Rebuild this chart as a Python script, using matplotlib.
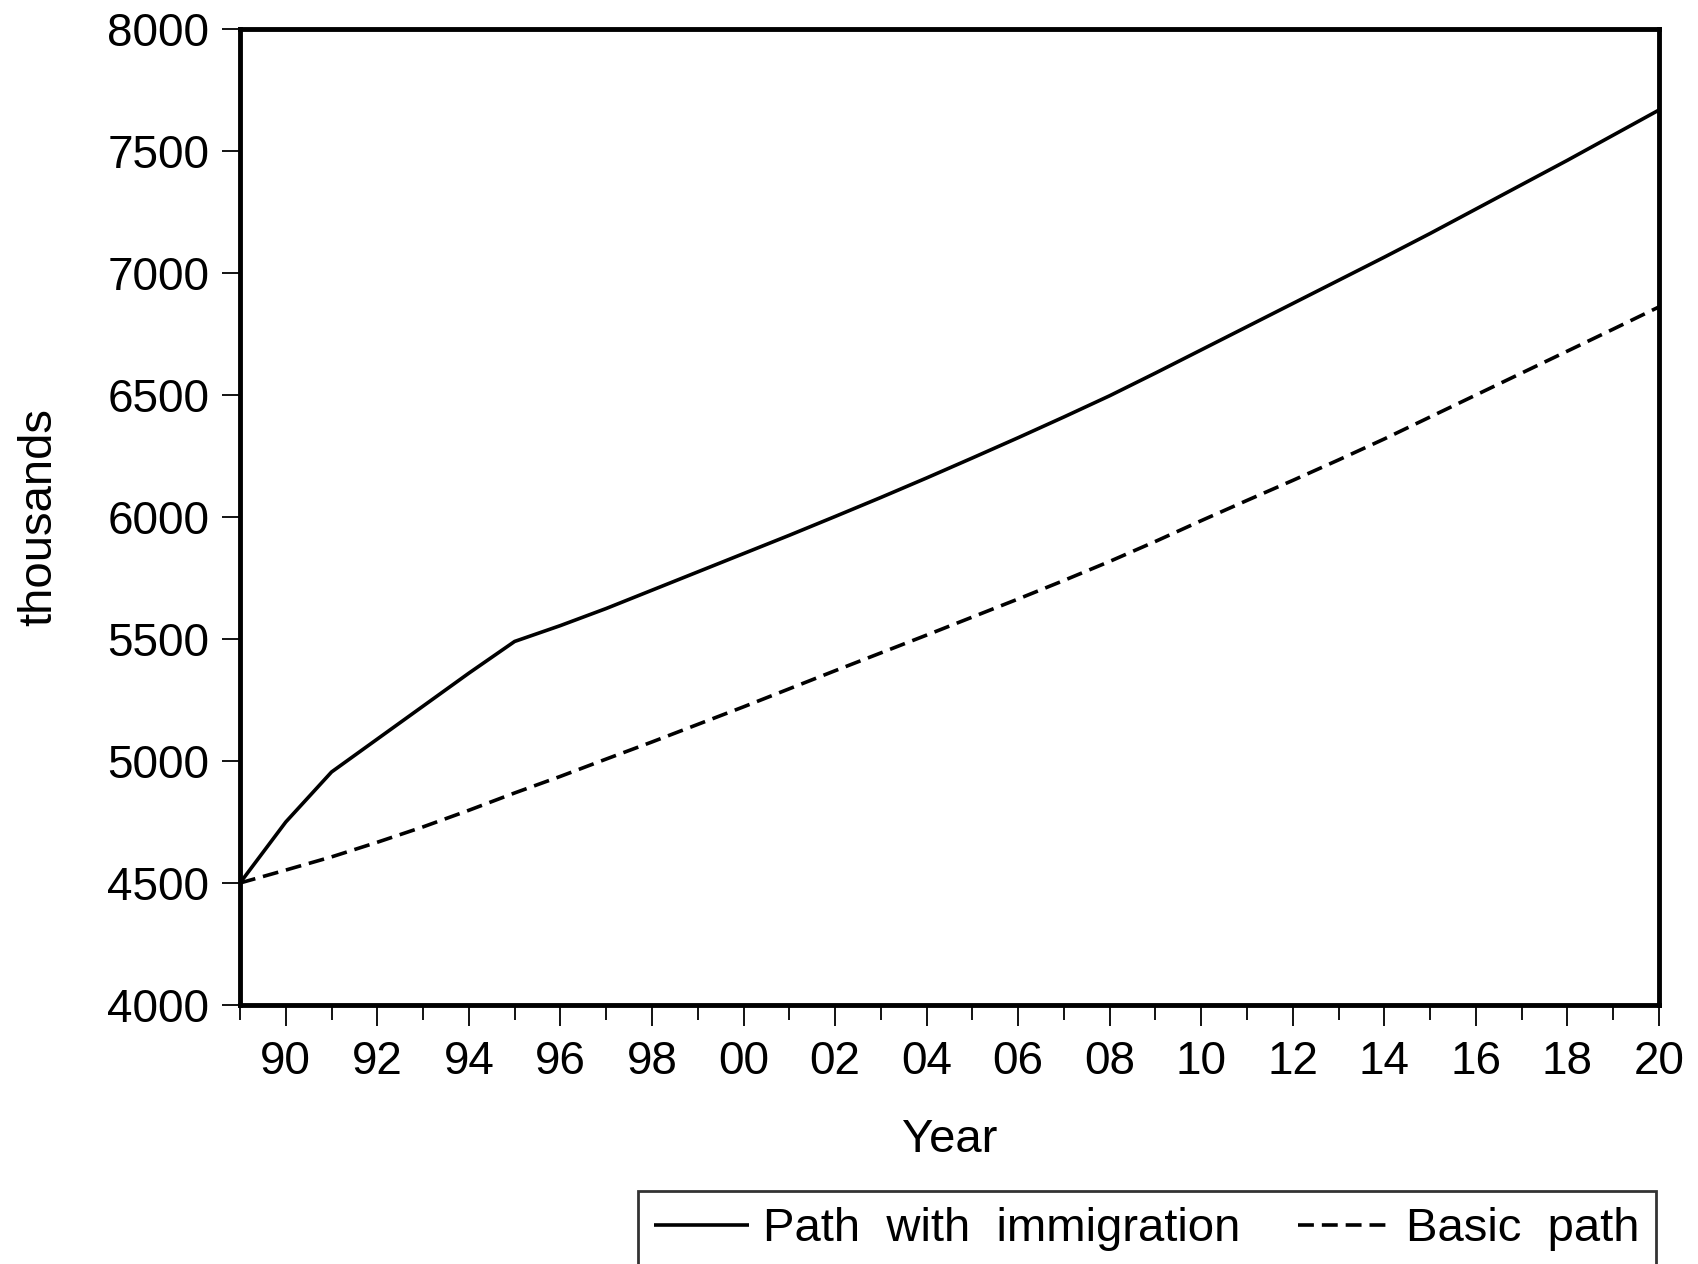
import matplotlib
matplotlib.use("Agg")
import matplotlib.pyplot as plt
from matplotlib.ticker import FixedLocator, FuncFormatter

plt.rcParams['font.family'] = ['Liberation Sans', 'DejaVu Sans']

years = list(range(1989, 2021))
with_immigration = [4500, 4750, 4955, 5090, 5225, 5360, 5490, 5555, 5625, 5700,
                    5775, 5850, 5925, 6002, 6080, 6160, 6242, 6325, 6410, 6497,
                    6590, 6685, 6780, 6875, 6970, 7065, 7162, 7262, 7362, 7462,
                    7565, 7668]
basic_path = [4500, 4553, 4607, 4667, 4730, 4798, 4869, 4937, 5008, 5078,
              5150, 5222, 5296, 5370, 5443, 5516, 5590, 5664, 5740, 5818,
              5900, 5985, 6068, 6150, 6234, 6320, 6410, 6500, 6590, 6680,
              6770, 6861]
series_labels = ["Path  with  immigration", "Basic  path"]
y_ticks = [4000, 4500, 5000, 5500, 6000, 6500, 7000, 7500, 8000]
x_major = list(range(1990, 2021, 2))
x_minor = list(range(1989, 2021, 2))

W, H = 1698, 1264
fig = plt.figure(figsize=(W / 100, H / 100), dpi=100)
ax = fig.add_axes([240 / W, 1 - 1005 / H, (1659 - 240) / W, (1005 - 29) / H])

l1, = ax.plot(years, with_immigration, color='black', lw=2.6, solid_capstyle='butt',
              solid_joinstyle='round', label=series_labels[0])
l2, = ax.plot(years, basic_path, color='black', lw=2.6, linestyle=(0, (4.4, 2.2)),
              label=series_labels[1])

ax.set_xlim(1989, 2020)
ax.set_ylim(4000, 8000)

for s in ax.spines.values():
    s.set_linewidth(3.5)
    s.set_color('black')

ax.yaxis.set_major_locator(FixedLocator(y_ticks))
ax.xaxis.set_major_locator(FixedLocator(x_major))
ax.xaxis.set_minor_locator(FixedLocator(x_minor))
ax.xaxis.set_major_formatter(FuncFormatter(lambda v, p: f"{int(round(v)) % 100:02d}"))

ax.tick_params(axis='y', which='major', direction='out', length=13, width=1.3,
               pad=9, labelsize=33)
ax.tick_params(axis='x', which='major', direction='out', length=15, width=1.3,
               pad=10, labelsize=33)
ax.tick_params(axis='x', which='minor', direction='out', length=10.5, width=1.3)

ax.set_xlabel("Year", fontsize=34, labelpad=25)
ax.set_ylabel("thousands", fontsize=34, labelpad=33)

leg = fig.legend(handles=[l1, l2], loc='upper left',
                 bbox_to_anchor=(638 / W, 0, (1656 - 638) / W, 1 - 1191 / H),
                 mode='expand', ncol=2, fontsize=34, frameon=True, fancybox=False,
                 borderpad=0.34, borderaxespad=0, handlelength=2.0,
                 handletextpad=0.3, columnspacing=1.0)
fr = leg.get_frame()
fr.set_edgecolor('black')
fr.set_linewidth(2.0)

fig.savefig("out.png", dpi=100)
